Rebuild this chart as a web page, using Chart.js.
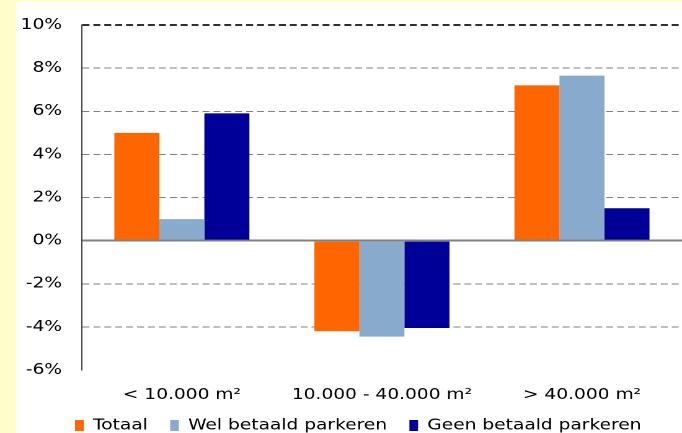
<!DOCTYPE html>
<html>
<head>
<meta charset="utf-8">
<script src="https://cdn.jsdelivr.net/npm/chart.js@4/dist/chart.umd.min.js"></script>
<style>
  html, body { margin: 0; padding: 0; overflow: hidden; background: #FFFFCC; }
  #chart { display: block; width: 682px; height: 443px; }
</style>
</head>
<body>
<canvas id="chart" width="550" height="443" style="width:682px;height:443px"></canvas>
<script>
// categorieen en waarden (procentuele verandering)
const categorieen = ["< 10.000 m²", "10.000 - 40.000 m²", "> 40.000 m²"];
const totaal = [5.0, -4.2, 7.2];
const welBetaald = [1.0, -4.45, 7.65];
const geenBetaald = [5.9, -4.05, 1.5];
const yTicks = [-6, -4, -2, 0, 2, 4, 6, 8, 10];

// het origineel is horizontaal uitgerekt; canvas wordt via css breder getoond
const rek = 682 / 550;

const achtergrond = {
  id: "achtergrond",
  beforeDraw(chart) {
    const c = chart.ctx;
    c.save();
    c.fillStyle = "#FFFFCC";
    c.fillRect(0, 0, chart.width, chart.height);
    c.fillStyle = "#FFFFFF";
    c.fillRect(16 / rek, 2, chart.width, chart.height);
    c.restore();
    // legenda iets naar rechts, zoals in het origineel
    if (chart.legend) chart.legend.left = 42.5;
  }
};

const lettertype = { family: "'DejaVu Sans', Verdana, sans-serif", size: 15 };

new Chart(document.getElementById("chart"), {
  type: "bar",
  data: {
    labels: categorieen,
    datasets: [
      { label: "Totaal", data: totaal, backgroundColor: "#FF6600" },
      { label: "Wel betaald parkeren", data: welBetaald, backgroundColor: "#88AACC" },
      { label: "Geen betaald parkeren", data: geenBetaald, backgroundColor: "#000099" }
    ]
  },
  options: {
    responsive: false,
    devicePixelRatio: 2,
    animation: false,
    layout: { padding: { left: 0, top: 17, right: 0, bottom: 0 } },
    datasets: { bar: { categoryPercentage: 0.675, barPercentage: 1.0 } },
    scales: {
      x: {
        grid: { display: false, drawTicks: false },
        border: { display: false },
        ticks: { color: "#000", font: lettertype, padding: 16, maxRotation: 0 },
        afterFit(scale) { scale.height = 30; }
      },
      y: {
        min: -6,
        max: 10,
        afterBuildTicks(scale) { scale.ticks = yTicks.map(v => ({ value: v })); },
        afterFit(scale) { scale.width = 66; },
        ticks: {
          color: "#000",
          font: lettertype,
          padding: 16,
          callback: v => v + "%"
        },
        grid: {
          drawTicks: false,
          color: ctx => {
            const v = ctx.tick ? ctx.tick.value : null;
            if (v === -6) return "rgba(0,0,0,0)";
            if (v === 10) return "#303030";
            return "#808080";
          },
          lineWidth: ctx => {
            const v = ctx.tick ? ctx.tick.value : null;
            return (v === 0 || v === 10) ? 2 : 1;
          }
        },
        border: {
          display: true,
          color: "#404040",
          width: 1,
          dash: ctx => (ctx.tick && ctx.tick.value === 0) ? [] : [5.6, 3.2]
        }
      }
    },
    plugins: {
      legend: {
        position: "bottom",
        align: "start",
        labels: {
          color: "#000",
          font: lettertype,
          boxWidth: 7,
          boxHeight: 11,
          padding: 18
        }
      },
      tooltip: { enabled: false }
    }
  },
  plugins: [achtergrond]
});
</script>
</body>
</html>
